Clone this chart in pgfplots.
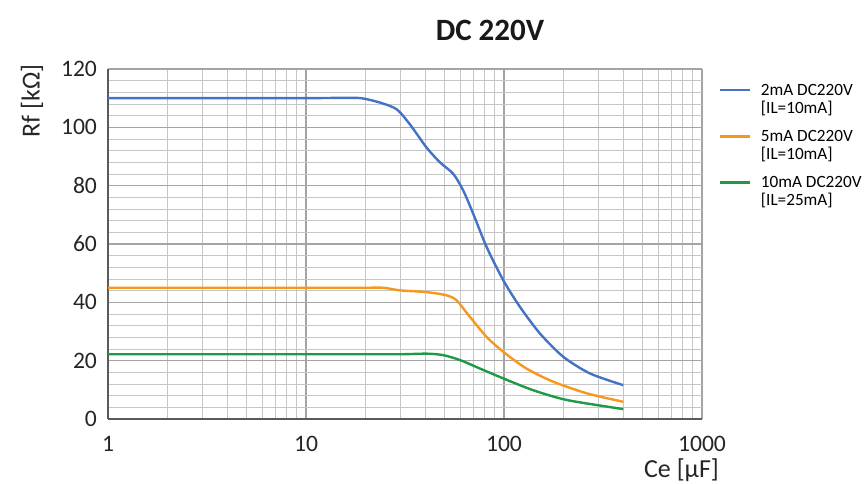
\documentclass[border=0pt]{standalone}
\usepackage{fontspec}
\setmainfont{Carlito}
\usepackage{pgfplots}
\pgfplotsset{compat=1.18}
\definecolor{cblue}{HTML}{4472C4}
\definecolor{corange}{HTML}{F7981D}
\definecolor{cgreen}{HTML}{1E9A47}
\definecolor{gridmaj}{HTML}{A4A4A4}
\definecolor{gridmin}{HTML}{C6C6C6}
\definecolor{axline}{HTML}{5A5A5A}

\begin{document}
\begin{tikzpicture}
\useasboundingbox (-54pt,-32pt) rectangle (378pt,209.5pt);
\begin{axis}[
  at={(0,0)}, anchor=south west,
  scale only axis, width=297pt, height=175pt,
  xmode=log, xmin=1, xmax=1000, ymin=0, ymax=120,
  xtick={1,10,100,1000}, xticklabels={1,10,100,1000},
  ytick={0,20,...,120}, minor y tick num=4,
  grid=both,
  major grid style={draw=gridmaj, line width=0.6pt},
  minor grid style={draw=gridmin, line width=0.5pt},
  axis x line*=bottom, axis y line*=left,
  axis line style={draw=axline, line width=0.8pt},
  major tick length=0pt, minor tick length=0pt,
  tick label style={font=\fontsize{11.8}{13}\selectfont, text=black!85},
  xticklabel style={yshift=-5pt},
  yticklabel style={xshift=-2pt},
  /pgf/number format/assume math mode=true,
  legend style={at={(rel axis cs:1.017,0.975)}, anchor=north west, draw=none, fill=none,
    font=\fontsize{8.6}{9}\selectfont, row sep=5pt,
    nodes={align=left, inner sep=1pt, inner xsep=5pt}},
  legend cell align=left,
  legend image code/.code={\draw[#1] (0pt,5pt) -- (15pt,5pt);},
]
\addplot[cblue, line width=1.2pt, smooth, tension=0.45] coordinates {
  (1,110) (5,110) (10,110) (15,110.1) (19,110) (23.6,108.5) (28.7,106.2)
  (33.5,101) (40.7,93) (47.5,88) (55.5,84) (62.3,78.3) (70,70.3) (81.8,58.9)
  (99.3,47.5) (120.5,38.4) (152,29.3) (199.5,21.3) (272,15.6) (400,11.6)
};
\addlegendentry{2mA DC220V\\{[IL=10mA]}}
\addplot[corange, line width=1.2pt, smooth, tension=0.45] coordinates {
  (1,45) (5,45) (12,45) (20,45) (24.6,45) (29.9,44.1) (40.7,43.5) (51.3,42.4)
  (57.6,40.7) (67.3,35) (81.8,28.1) (99.3,23) (129.8,17.3) (177,12.8)
  (262,8.8) (400,5.9)
};
\addlegendentry{5mA DC220V\\{[IL=10mA]}}
\addplot[cgreen, line width=1.2pt, smooth, tension=0.45] coordinates {
  (1,22.2) (5,22.2) (15,22.2) (30,22.2) (40.7,22.4) (49.3,21.9) (60,20.2)
  (75.6,17.3) (99.3,13.9) (140,9.9) (208,6.5) (400,3.4)
};
\addlegendentry{10mA DC220V\\{[IL=25mA]}}
\end{axis}
\node[rotate=90, font=\fontsize{13}{14}\selectfont, text=black!85] at (-38pt,159pt) {Rf [kΩ]};
\node[anchor=east, font=\fontsize{13}{14}\selectfont, text=black!85] at (309pt,-25.5pt) {Ce [µF]};
\node[font=\fontsize{15.5}{17}\selectfont\bfseries, text=black!90] at (191pt,194.5pt) {DC 220V};
\end{tikzpicture}
\end{document}
